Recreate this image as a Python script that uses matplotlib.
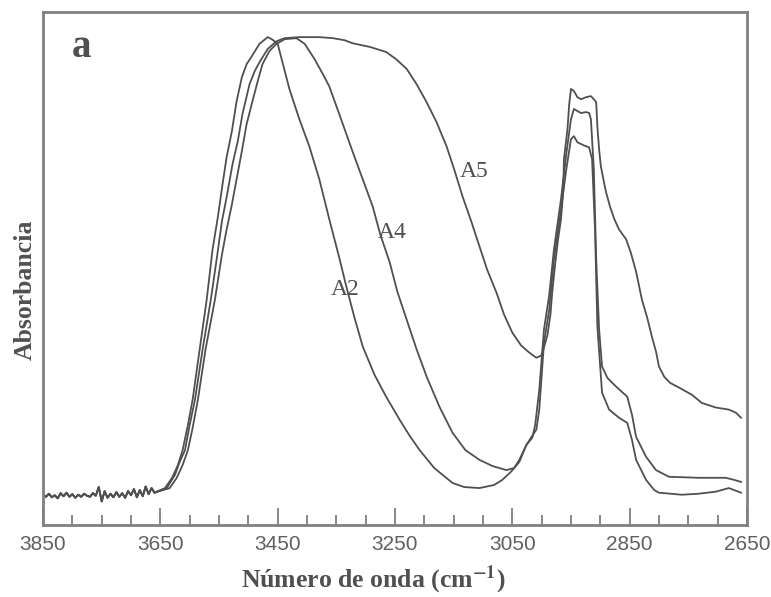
import numpy as np
import matplotlib
matplotlib.use('Agg')
import matplotlib.pyplot as plt
from matplotlib.ticker import MultipleLocator

plt.rcParams['font.family'] = ['Liberation Serif', 'DejaVu Serif']
plt.rcParams['mathtext.fontset'] = 'stix'

# linea base ruidosa comun (numero de onda, absorbancia)
base_wn = [3850, 3845, 3840, 3835, 3830, 3825, 3820, 3815, 3810, 3805,
           3800, 3795, 3790, 3785, 3780, 3775, 3770, 3765, 3760, 3755,
           3750, 3745, 3740, 3735, 3730, 3725, 3720, 3715, 3710, 3705,
           3700, 3695, 3690, 3685, 3680, 3675, 3670, 3665, 3660]
base_abs = [0.059, 0.055, 0.061, 0.054, 0.058, 0.052, 0.062, 0.056, 0.063, 0.055,
            0.060, 0.053, 0.059, 0.055, 0.061, 0.057, 0.055, 0.062, 0.057, 0.074,
            0.046, 0.066, 0.053, 0.061, 0.054, 0.064, 0.055, 0.062, 0.053, 0.066,
            0.058, 0.070, 0.054, 0.068, 0.056, 0.075, 0.060, 0.072, 0.063]

a2_wn = [3642, 3630, 3620, 3612, 3603, 3595, 3583, 3571, 3561, 3552,
         3544, 3537, 3528, 3520, 3511, 3503, 3494, 3481, 3467, 3460,
         3450, 3430, 3413, 3396, 3379, 3362, 3345, 3333, 3319, 3305,
         3285, 3265, 3242, 3225, 3208, 3183, 3152, 3132, 3106, 3081,
         3067, 3052, 3038, 3026, 3016, 3009, 3004, 2996, 2987, 2979,
         2967, 2958, 2950, 2945, 2939, 2928, 2919, 2914, 2909, 2905,
         2897, 2885, 2868, 2854, 2846, 2839, 2822, 2808, 2800, 2761,
         2732, 2703, 2681, 2660]
a2_abs = [0.072, 0.092, 0.117, 0.146, 0.195, 0.244, 0.342, 0.439, 0.537, 0.600,
          0.664, 0.717, 0.768, 0.826, 0.873, 0.898, 0.914, 0.938, 0.951, 0.947,
          0.938, 0.850, 0.791, 0.738, 0.674, 0.596, 0.521, 0.465, 0.404, 0.348,
          0.293, 0.250, 0.205, 0.174, 0.146, 0.111, 0.082, 0.074, 0.072, 0.078,
          0.088, 0.104, 0.123, 0.156, 0.174, 0.186, 0.225, 0.355, 0.420, 0.518,
          0.615, 0.693, 0.752, 0.758, 0.746, 0.740, 0.736, 0.713, 0.576, 0.387,
          0.258, 0.225, 0.209, 0.199, 0.166, 0.127, 0.088, 0.068, 0.063, 0.059,
          0.061, 0.065, 0.072, 0.063]

a4_wn = [3634, 3622, 3612, 3603, 3595, 3586, 3573, 3557, 3545, 3537,
         3528, 3520, 3511, 3503, 3493, 3484, 3476, 3464, 3452, 3438,
         3418, 3404, 3387, 3373, 3362, 3345, 3322, 3305, 3288, 3275,
         3259, 3246, 3230, 3213, 3196, 3174, 3152, 3130, 3106, 3084,
         3060, 3047, 3038, 3026, 3016, 3011, 3004, 2996, 2987, 2979,
         2967, 2958, 2950, 2945, 2939, 2933, 2924, 2919, 2916, 2911,
         2907, 2902, 2897, 2888, 2876, 2854, 2846, 2839, 2822, 2805,
         2783, 2732, 2686, 2672, 2660]
a4_abs = [0.072, 0.092, 0.117, 0.146, 0.189, 0.244, 0.342, 0.439, 0.527, 0.576,
          0.625, 0.674, 0.729, 0.781, 0.826, 0.865, 0.898, 0.924, 0.938, 0.947,
          0.949, 0.938, 0.908, 0.879, 0.855, 0.801, 0.727, 0.674, 0.621, 0.566,
          0.512, 0.455, 0.400, 0.342, 0.289, 0.230, 0.180, 0.146, 0.127, 0.115,
          0.107, 0.111, 0.127, 0.156, 0.170, 0.195, 0.264, 0.381, 0.449, 0.537,
          0.635, 0.723, 0.791, 0.811, 0.807, 0.803, 0.805, 0.803, 0.791, 0.693,
          0.518, 0.381, 0.309, 0.287, 0.273, 0.250, 0.215, 0.172, 0.133, 0.107,
          0.094, 0.092, 0.092, 0.088, 0.084]

a5_wn = [3639, 3625, 3617, 3608, 3600, 3591, 3578, 3564, 3554, 3545,
         3537, 3527, 3518, 3510, 3498, 3489, 3481, 3467, 3452, 3438,
         3413, 3379, 3356, 3336, 3322, 3293, 3265, 3248, 3230, 3213,
         3196, 3179, 3162, 3149, 3135, 3120, 3106, 3093, 3077, 3064,
         3050, 3035, 3021, 3009, 3001, 2996, 2990, 2985, 2982, 2977,
         2972, 2967, 2963, 2962, 2956, 2953, 2950, 2945, 2939, 2933,
         2924, 2916, 2911, 2907, 2905, 2902, 2899, 2893, 2890, 2883,
         2876, 2868, 2856, 2848, 2839, 2829, 2820, 2812, 2805, 2800,
         2791, 2781, 2766, 2744, 2727, 2703, 2681, 2669, 2660]
a5_abs = [0.072, 0.098, 0.123, 0.146, 0.195, 0.244, 0.342, 0.439, 0.518, 0.592,
          0.639, 0.703, 0.748, 0.801, 0.859, 0.885, 0.902, 0.928, 0.943, 0.949,
          0.951, 0.951, 0.949, 0.945, 0.939, 0.932, 0.922, 0.908, 0.889, 0.859,
          0.824, 0.785, 0.738, 0.693, 0.641, 0.592, 0.543, 0.498, 0.453, 0.410,
          0.375, 0.350, 0.336, 0.326, 0.330, 0.346, 0.371, 0.410, 0.453, 0.508,
          0.557, 0.596, 0.654, 0.713, 0.771, 0.820, 0.850, 0.846, 0.834, 0.830,
          0.834, 0.836, 0.830, 0.824, 0.777, 0.732, 0.699, 0.664, 0.648, 0.619,
          0.596, 0.576, 0.557, 0.531, 0.494, 0.439, 0.404, 0.367, 0.338, 0.309,
          0.289, 0.277, 0.268, 0.254, 0.238, 0.229, 0.225, 0.219, 0.209]

series = {
    'A2': (a2_wn, a2_abs),
    'A4': (a4_wn, a4_abs),
    'A5': (a5_wn, a5_abs),
}
labels_pos = {'A2': (3335, 0.46), 'A4': (3255, 0.57), 'A5': (3115, 0.69)}

line_c = '#505050'
grey = '#808080'

fig = plt.figure(figsize=(7.71, 5.97), dpi=100)
ax = fig.add_axes([0.0558, 0.1206, 0.913, 0.8593])

for name, (wn, ab) in series.items():
    x = np.array(base_wn + wn)
    y = np.array(base_abs + ab)
    ax.plot(x, y, color=line_c, linewidth=1.3)
    lx, ly = labels_pos[name]
    ax.text(lx, ly, name, fontsize=17, color=line_c, ha='center', va='center')

ax.text(3785, 0.93, 'a', fontsize=28, fontweight='bold', color=line_c,
        ha='center', va='center')

ax.set_xlim(3850, 2650)
ax.set_ylim(0, 1)
ax.xaxis.set_major_locator(MultipleLocator(200, offset=50))
ax.xaxis.set_minor_locator(MultipleLocator(50))
ax.set_yticks([])
ax.tick_params(axis='x', which='major', direction='in', length=12, width=1.3,
               color=grey, labelsize=15, labelcolor='#606060', pad=7)
ax.tick_params(axis='x', which='minor', direction='in', length=7, width=1.3,
               color=grey)
for lab in ax.get_xticklabels():
    lab.set_family(['Liberation Sans', 'DejaVu Sans'])
for s in ax.spines.values():
    s.set_color(grey)
    s.set_linewidth(2)

ax.set_xlabel('Número de onda (cm$^{\\mathbf{-1}}$)', fontsize=18.5,
              fontweight='bold', color=line_c)
ax.xaxis.set_label_coords(0.469, -0.075)
ax.set_ylabel('Absorbancia', fontsize=18.5, fontweight='bold', color=line_c)
ax.yaxis.set_label_coords(-0.009, 0.458)

fig.savefig('out.png', dpi=100)
